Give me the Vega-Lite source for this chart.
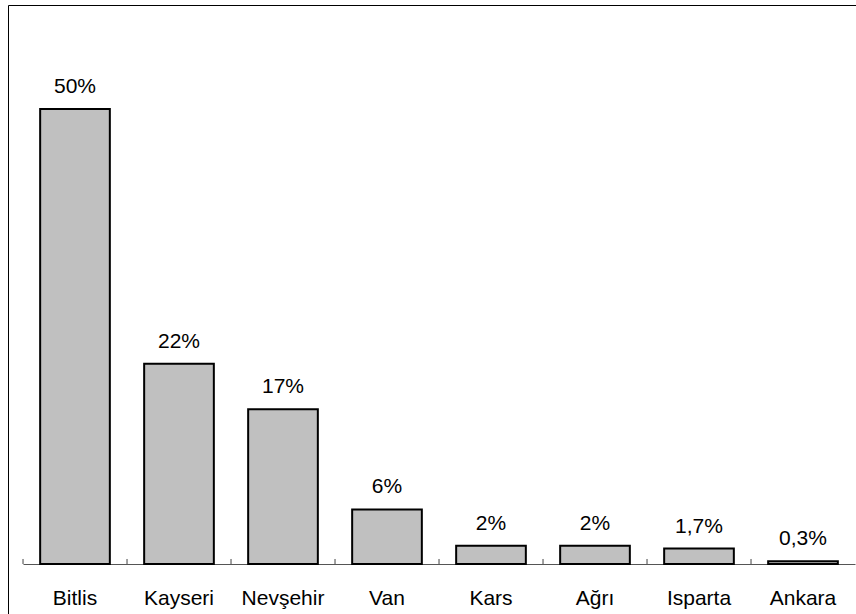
{
  "$schema": "https://vega.github.io/schema/vega-lite/v6.json",
  "autosize": {"type": "none"},
  "padding": {"left": 8, "top": 5, "right": 0, "bottom": 0},
  "width": 860,
  "height": 620,
  "background": "white",
  "config": {
    "view": {"stroke": "black", "strokeWidth": 1},
    "font": "Liberation Sans"
  },
  "data": {
    "values": [
      {"il": "Bitlis", "oran": 50, "etiket": "50%"},
      {"il": "Kayseri", "oran": 22, "etiket": "22%"},
      {"il": "Nevşehir", "oran": 17, "etiket": "17%"},
      {"il": "Van", "oran": 6, "etiket": "6%"},
      {"il": "Kars", "oran": 2, "etiket": "2%"},
      {"il": "Ağrı", "oran": 2, "etiket": "2%"},
      {"il": "Isparta", "oran": 1.7, "etiket": "1,7%"},
      {"il": "Ankara", "oran": 0.3, "etiket": "0,3%"}
    ]
  },
  "encoding": {
    "x": {
      "field": "il",
      "type": "nominal",
      "sort": null,
      "scale": {"range": [15, 847], "paddingInner": 0.33, "paddingOuter": 0.165},
      "axis": {
        "title": null,
        "orient": "bottom",
        "offset": -61,
        "labelAngle": 0,
        "labelFontSize": 21,
        "labelColor": "black",
        "labelFont": "Liberation Sans",
        "labelBaseline": "alphabetic",
        "labelPadding": 40,
        "ticks": false,
        "domainColor": "#555555",
        "domainWidth": 1,
        "grid": false
      }
    },
    "y": {
      "field": "oran",
      "type": "quantitative",
      "scale": {"domain": [0, 60], "range": [559, 13], "nice": false},
      "axis": null
    }
  },
  "layer": [
    {
      "mark": {"type": "bar", "fill": "#c0c0c0", "stroke": "black", "strokeWidth": 2}
    },
    {
      "mark": {"type": "text", "fontSize": 21, "dy": -16, "baseline": "alphabetic", "color": "black", "font": "Liberation Sans"},
      "encoding": {"text": {"field": "etiket"}}
    },
    {
      "mark": {"type": "rule", "color": "#444444", "strokeWidth": 1},
      "encoding": {
        "x": {"field": "il", "type": "nominal", "sort": null, "bandPosition": -0.246},
        "y": {"datum": 0},
        "y2": {"datum": 0.55}
      }
    }
  ]
}
